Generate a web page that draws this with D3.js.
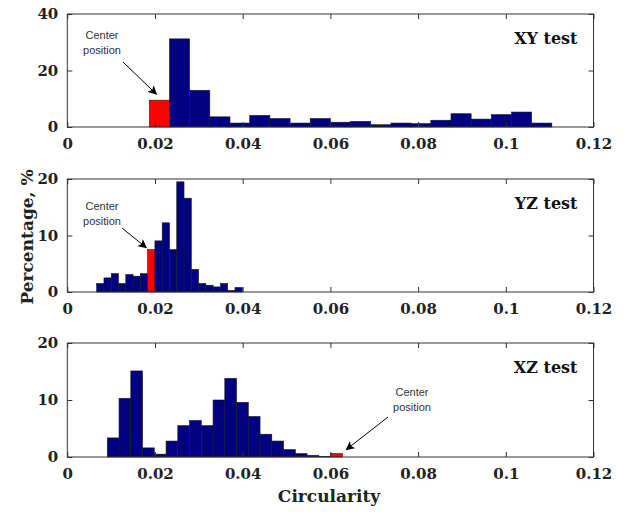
<!DOCTYPE html>
<html>
<head>
<meta charset="utf-8">
<script src="https://cdn.jsdelivr.net/npm/d3@7"></script>
<style>
  body { margin: 0; background: #fff; }
  svg { display: block; }
</style>
</head>
<body>
<div id="output"></div>
<script>
var w = 624;
var h = 512;

// bin centres (circularity) and percentages
var xyCenters = [0.0210, 0.0256, 0.0302, 0.0348, 0.0393, 0.0439, 0.0485, 0.0531, 0.0577, 0.0623,
                 0.0669, 0.0715, 0.0761, 0.0806, 0.0852, 0.0898, 0.0944, 0.0990, 0.1036, 0.1082];
var xyValues = [9.5, 31.2, 13.0, 3.6, 1.4, 4.1, 3.0, 1.4, 3.0, 1.7,
                2.0, 0.8, 1.4, 1.2, 2.4, 4.7, 2.8, 4.4, 5.3, 1.4];

var yzCenters = [0.00753, 0.00919, 0.01085, 0.01251, 0.01417, 0.01583, 0.01749, 0.01915, 0.02081, 0.02247,
                 0.02413, 0.02579, 0.02745, 0.02911, 0.03077, 0.03243, 0.03409, 0.03575, 0.03741, 0.03907];
var yzValues = [1.5, 2.5, 3.25, 1.5, 3.1, 2.8, 3.25, 7.5, 9.05, 12.25,
                7.5, 19.5, 16.6, 4.0, 1.5, 1.2, 0.9, 1.5, 0.3, 0.8];

var xzCenters = [0.01046, 0.01314, 0.01582, 0.01850, 0.02118, 0.02386, 0.02654, 0.02922, 0.03190, 0.03458,
                 0.03726, 0.03994, 0.04262, 0.04530, 0.04798, 0.05066, 0.05334, 0.05602, 0.05870, 0.06138];
var xzValues = [3.35, 10.3, 15.1, 1.6, 0.5, 2.8, 5.5, 6.4, 5.5, 10.0,
                13.8, 9.6, 7.1, 4.0, 2.8, 1.3, 0.6, 0.3, 0.1, 0.6];

var xTicks = [0, 0.02, 0.04, 0.06, 0.08, 0.1, 0.12];
var xTickLabels = ['0', '0.02', '0.04', '0.06', '0.08', '0.1', '0.12'];

var panels = [
  { title: 'XY test', centers: xyCenters, values: xyValues, center: 0, yMax: 40, yTicks: [0, 20, 40],
    top: 14, bottom: 127, note: { tx: 102, ty: 39, from: [123, 62], dx: -3, dy: -6 } },
  { title: 'YZ test', centers: yzCenters, values: yzValues, center: 7, yMax: 20, yTicks: [0, 10, 20],
    top: 179, bottom: 292, note: { tx: 102, ty: 210, from: [122, 228], dx: -5, dy: -2 } },
  { title: 'XZ test', centers: xzCenters, values: xzValues, center: 19, yMax: 20, yTicks: [0, 10, 20],
    top: 343, bottom: 457, note: { tx: 412, ty: 396, from: [388, 417], dx: 4, dy: -4 } }
];

var left = 67.3, right = 593.5;
var serif = '"DejaVu Serif", serif';
var navy = '#000080';

var svg = d3.select('#output').append('svg')
  .attr('width', w)
  .attr('height', h);

var defs = svg.append('defs');
defs.append('marker')
  .attr('id', 'arrow')
  .attr('viewBox', '0 0 10 10')
  .attr('refX', 9).attr('refY', 5)
  .attr('markerWidth', 9).attr('markerHeight', 9)
  .attr('markerUnits', 'userSpaceOnUse')
  .attr('orient', 'auto')
  .append('path')
  .attr('d', 'M0,0 L10,5 L0,10 L2.5,5 z')
  .attr('fill', '#000');

var x = d3.scaleLinear().domain([0, 0.12]).range([left, right]);

panels.forEach(function (p) {
  var y = d3.scaleLinear().domain([0, p.yMax]).range([p.bottom, p.top]);
  var bw = p.centers[1] - p.centers[0];
  var g = svg.append('g');

  // bars
  g.selectAll('rect.bar')
    .data(p.values)
    .enter()
    .append('rect')
    .attr('class', 'bar')
    .attr('x', function (d, i) { return x(p.centers[i] - bw / 2); })
    .attr('y', function (d) { return y(d); })
    .attr('width', function (d, i) { return x(p.centers[i] + bw / 2) - x(p.centers[i] - bw / 2); })
    .attr('height', function (d) { return y(0) - y(d); })
    .attr('fill', function (d, i) { return i === p.center ? '#ff0000' : navy; })
    .attr('stroke', '#1a1a1a')
    .attr('stroke-width', 0.6);

  // box
  g.append('rect')
    .attr('x', left).attr('y', p.top)
    .attr('width', right - left).attr('height', p.bottom - p.top)
    .attr('fill', 'none')
    .attr('stroke', '#333')
    .attr('stroke-width', 1);

  // inward ticks, all four sides
  var bottomAxis = d3.axisBottom(x).tickValues(xTicks).tickSizeInner(-5).tickSizeOuter(0)
    .tickFormat(function (d, i) { return xTickLabels[i]; });
  var gx = g.append('g').attr('transform', 'translate(0,' + p.bottom + ')').call(bottomAxis);
  gx.select('.domain').remove();
  gx.selectAll('line').attr('stroke', '#333');
  gx.selectAll('text')
    .attr('y', 11)
    .attr('dy', '0.71em')
    .attr('fill', '#222')
    .style('font-family', serif)
    .style('font-weight', 'bold')
    .style('font-size', '15px');

  var gxt = g.append('g').attr('transform', 'translate(0,' + p.top + ')')
    .call(d3.axisTop(x).tickValues(xTicks).tickSizeInner(-5).tickSizeOuter(0).tickFormat(''));
  gxt.select('.domain').remove();
  gxt.selectAll('line').attr('stroke', '#333');

  var gy = g.append('g').attr('transform', 'translate(' + left + ',0)')
    .call(d3.axisLeft(y).tickValues(p.yTicks).tickSizeInner(-5).tickSizeOuter(0));
  gy.select('.domain').remove();
  gy.selectAll('line').attr('stroke', '#333');
  gy.selectAll('text')
    .attr('x', -9)
    .attr('fill', '#222')
    .style('font-family', serif)
    .style('font-weight', 'bold')
    .style('font-size', '15px');

  var gyr = g.append('g').attr('transform', 'translate(' + right + ',0)')
    .call(d3.axisRight(y).tickValues(p.yTicks).tickSizeInner(-5).tickSizeOuter(0).tickFormat(''));
  gyr.select('.domain').remove();
  gyr.selectAll('line').attr('stroke', '#333');

  // panel title
  g.append('text')
    .attr('x', right - 16)
    .attr('y', p.top + 30)
    .attr('text-anchor', 'end')
    .attr('fill', '#111')
    .style('font-family', serif)
    .style('font-weight', 'bold')
    .style('font-size', '16px')
    .text(p.title);

  // "Center position" note with arrow to the highlighted bin
  var n = p.note;
  var label = g.append('text')
    .attr('text-anchor', 'middle')
    .attr('fill', '#333')
    .style('font-family', '"Liberation Sans", Arial, sans-serif')
    .style('font-size', '11px');
  label.append('tspan').attr('x', n.tx).attr('y', n.ty).text('Center');
  label.append('tspan').attr('x', n.tx).attr('y', n.ty + 15).text('position');

  var c = p.centers[p.center];
  var tipX = p.center === 19 ? x(c + bw / 2) + n.dx : x(c) + n.dx;
  var tipY = y(p.values[p.center]) + n.dy;
  g.append('line')
    .attr('x1', n.from[0]).attr('y1', n.from[1])
    .attr('x2', tipX).attr('y2', tipY)
    .attr('stroke', '#000')
    .attr('stroke-width', 1)
    .attr('marker-end', 'url(#arrow)');
});

// axis titles
svg.append('text')
  .attr('transform', 'translate(33,237) rotate(-90)')
  .attr('text-anchor', 'middle')
  .attr('fill', '#222')
  .style('font-family', serif)
  .style('font-weight', 'bold')
  .style('font-size', '17px')
  .text('Percentage, %');

svg.append('text')
  .attr('x', 329)
  .attr('y', 502)
  .attr('text-anchor', 'middle')
  .attr('fill', '#222')
  .style('font-family', serif)
  .style('font-weight', 'bold')
  .style('font-size', '17px')
  .text('Circularity');
</script>
</body>
</html>
